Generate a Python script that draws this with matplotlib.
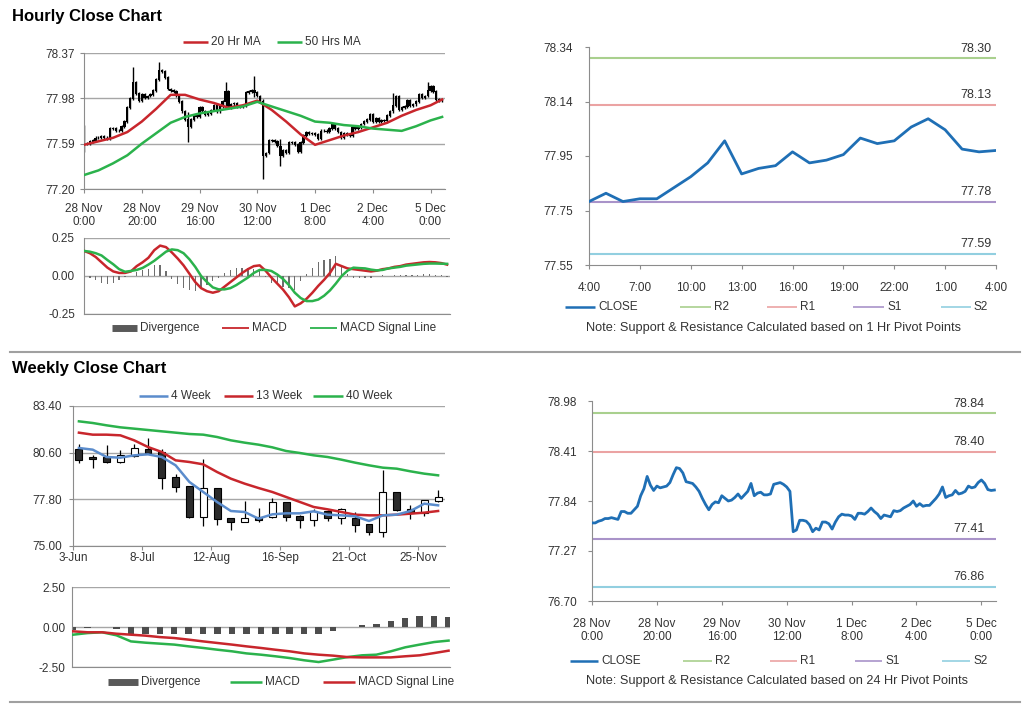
import matplotlib.pyplot as plt
from matplotlib.lines import Line2D
import numpy as np
import pandas as pd

plt.rcParams['font.family'] = ['Liberation Sans', 'DejaVu Sans']

W, H = 1024, 706

# hourly close, 28 Nov 0:00 -> 5 Dec 4:00 (125 trading hours)
hourly_close = [
    77.59, 77.59, 77.61, 77.62, 77.64, 77.64, 77.65, 77.64, 77.63, 77.72,
    77.72, 77.70, 77.70, 77.74, 77.78, 77.90, 77.98, 78.12, 78.02, 77.96,
    78.01, 77.99, 78.00, 78.01, 78.05, 78.14, 78.22, 78.21, 78.16, 78.06,
    78.05, 78.04, 78.00, 77.95, 77.87, 77.80, 77.74, 77.80, 77.83, 77.82,
    77.90, 77.87, 77.84, 77.85, 77.88, 77.92, 77.87, 77.91, 77.95, 78.04,
    77.90, 77.93, 77.94, 77.91, 77.91, 77.92, 78.03, 78.04, 78.05, 78.03,
    78.00, 77.95, 77.49, 77.51, 77.62, 77.62, 77.61, 77.57, 77.49, 77.53,
    77.51, 77.60, 77.60, 77.58, 77.52, 77.60, 77.66, 77.69, 77.68, 77.68,
    77.67, 77.63, 77.70, 77.70, 77.69, 77.72, 77.76, 77.72, 77.69, 77.64,
    77.68, 77.67, 77.66, 77.73, 77.72, 77.73, 77.76, 77.78, 77.80, 77.84,
    77.78, 77.81, 77.78, 77.79, 77.79, 77.83, 77.87, 77.92, 78.00, 77.88,
    77.90, 77.91, 77.96, 77.92, 77.93, 77.95, 78.01, 77.99, 78.00, 78.05,
    78.08, 78.04, 77.97, 77.96, 77.965,
]
hourly_open0 = 77.68
# hours with long wicks
wick_idx = [0, 17, 26, 36, 49, 59, 62, 68, 107, 119]
wick_high = [77.74, 78.24, 78.28, 77.85, 78.11, 78.16, 77.96, 77.62, 78.01, 78.11]
wick_low = [77.53, 78.00, 78.15, 77.62, 77.90, 78.00, 77.30, 77.41, 77.88, 78.00]

ma_idx = [0, 5, 10, 15, 20, 25, 30, 35, 40, 45, 50, 55, 60, 65, 70, 75,
          80, 85, 90, 95, 100, 105, 110, 115, 120, 124]
ma20 = [77.58, 77.61, 77.64, 77.69, 77.78, 77.89, 78.01, 78.01, 77.97, 77.94,
        77.90, 77.92, 77.96, 77.88, 77.78, 77.67, 77.58, 77.62, 77.66, 77.69,
        77.73, 77.77, 77.83, 77.88, 77.92, 77.97]
ma50 = [77.32, 77.36, 77.42, 77.49, 77.59, 77.68, 77.77, 77.82, 77.85, 77.87,
        77.89, 77.91, 77.95, 77.91, 77.87, 77.83, 77.78, 77.77, 77.75, 77.74,
        77.72, 77.71, 77.70, 77.74, 77.79, 77.82]

macd_idx = list(range(0, 125, 2))
hourly_macd = [0.165, 0.15, 0.125, 0.09, 0.055, 0.03, 0.02, 0.02, 0.03, 0.065,
               0.09, 0.12, 0.17, 0.20, 0.19, 0.155, 0.115, 0.07, 0.015, -0.04,
               -0.08, -0.10, -0.11, -0.10, -0.07, -0.04, -0.01, 0.02, 0.045, 0.065,
               0.07, 0.035, -0.01, -0.05, -0.09, -0.14, -0.20, -0.18, -0.15, -0.11,
               -0.065, -0.025, 0.02, 0.08, 0.065, 0.05, 0.045, 0.04, 0.035, 0.03,
               0.035, 0.045, 0.05, 0.06, 0.065, 0.075, 0.08, 0.085, 0.09, 0.092,
               0.09, 0.085, 0.075]
hourly_signal = [0.165, 0.16, 0.15, 0.135, 0.105, 0.077, 0.045, 0.028, 0.033, 0.04,
                 0.053, 0.075, 0.10, 0.13, 0.16, 0.175, 0.17, 0.15, 0.11, 0.06,
                 0.0, -0.04, -0.075, -0.088, -0.088, -0.08, -0.06, -0.035, -0.01, 0.02,
                 0.04, 0.04, 0.033, 0.01, -0.02, -0.06, -0.11, -0.145, -0.165, -0.165,
                 -0.155, -0.13, -0.095, -0.05, 0.0, 0.035, 0.055, 0.052, 0.05, 0.042,
                 0.037, 0.04, 0.05, 0.055, 0.06, 0.068, 0.072, 0.076, 0.08, 0.082,
                 0.082, 0.081, 0.08]

hour_tick_labels = ['28 Nov\n0:00', '28 Nov\n20:00', '29 Nov\n16:00', '30 Nov\n12:00',
                    '1 Dec\n8:00', '2 Dec\n4:00', '5 Dec\n0:00']
day_tick_labels = ['4:00', '7:00', '10:00', '13:00', '16:00', '19:00', '22:00', '1:00', '4:00']

pivot_names = ['R2', 'R1', 'S1', 'S2']
pivot_colors = ['#a9d08e', '#eba3a3', '#a993c9', '#92cfe0']
pivot_1h = [78.30, 78.13, 77.78, 77.59]
pivot_24h = [78.84, 78.40, 77.41, 76.86]

# weekly
week_dates = pd.date_range('2013-06-06', periods=27, freq='7D')
week_open = [80.78, 80.34, 80.34, 80.04, 80.44, 80.80, 80.64, 79.14, 78.58, 76.74,
             78.44, 76.64, 76.44, 76.74, 76.74, 77.64, 76.78, 76.60, 77.08, 76.70,
             76.68, 76.30, 75.84, 78.24, 77.18, 77.00, 77.74]
week_close = [80.20, 80.24, 80.04, 80.44, 80.84, 80.60, 79.12, 78.58, 76.74, 78.44,
              76.64, 76.44, 76.64, 76.60, 77.64, 76.74, 76.58, 77.08, 76.70, 77.18,
              76.30, 75.84, 78.24, 77.20, 77.00, 77.74, 77.94]
week_high = [81.14, 80.44, 81.08, 80.74, 81.14, 81.48, 80.80, 79.34, 78.58, 80.24,
             78.44, 76.64, 77.70, 77.28, 77.88, 77.64, 76.88, 77.24, 77.14, 77.28,
             77.04, 76.34, 79.54, 78.24, 77.44, 77.74, 78.34]
week_low = [80.00, 79.68, 80.00, 80.00, 80.34, 80.54, 78.44, 78.24, 76.68, 76.20,
            76.24, 75.94, 76.44, 76.44, 76.68, 76.50, 76.10, 76.20, 76.50, 76.30,
            75.84, 75.68, 75.54, 77.08, 76.60, 76.80, 77.64]
ma4w = [80.88, 80.78, 80.34, 80.30, 80.44, 80.50, 80.34, 79.84, 78.84, 78.24,
        77.64, 77.10, 77.04, 76.64, 76.90, 76.96, 76.96, 77.08, 76.88, 76.84,
        76.78, 76.50, 76.84, 76.88, 77.10, 77.54, 77.44]
ma13w = [81.80, 81.68, 81.68, 81.64, 81.34, 80.94, 80.64, 80.14, 80.04, 79.90,
         79.44, 79.04, 78.74, 78.48, 78.24, 77.94, 77.64, 77.34, 77.20, 77.04,
         76.88, 76.84, 76.84, 76.88, 76.94, 77.00, 77.10]
ma40w = [82.48, 82.38, 82.24, 82.12, 82.04, 81.96, 81.88, 81.80, 81.72, 81.68,
         81.54, 81.34, 81.20, 81.08, 80.92, 80.70, 80.58, 80.44, 80.34, 80.18,
         80.00, 79.84, 79.70, 79.64, 79.48, 79.34, 79.24]
week_macd = [-0.48, -0.38, -0.33, -0.52, -0.90, -0.98, -1.04, -1.10, -1.21, -1.31,
             -1.42, -1.52, -1.65, -1.73, -1.83, -1.94, -2.08, -2.19, -2.04, -1.88,
             -1.77, -1.73, -1.52, -1.27, -1.10, -0.94, -0.85]
week_signal = [-0.27, -0.33, -0.33, -0.42, -0.48, -0.54, -0.63, -0.69, -0.79, -0.90,
               -1.00, -1.10, -1.21, -1.31, -1.42, -1.52, -1.65, -1.73, -1.79, -1.88,
               -1.90, -1.90, -1.90, -1.83, -1.77, -1.63, -1.48]

RED = '#c8262c'
GREEN = '#2bb24c'
BLUE = '#1f6fb5'
GRID = '#a6a6a6'
TXT = '#333333'
FS = 8.5

fig = plt.figure(figsize=(W / 100, H / 100), dpi=100)


def px_axes(x0, y0, x1, y1):
    ax = fig.add_axes([x0 / W, 1 - y1 / H, (x1 - x0) / W, (y1 - y0) / H])
    for s in ['top', 'right']:
        ax.spines[s].set_visible(False)
    for s in ['left', 'bottom']:
        ax.spines[s].set_color('#8c8c8c')
    ax.tick_params(direction='out', length=3, color='#8c8c8c', labelsize=FS, labelcolor=TXT)
    return ax


def legend_item(x0, x1, y, color, lw, label):
    fig.add_artist(Line2D([x0 / W, x1 / W], [1 - y / H, 1 - y / H], color=color, lw=lw,
                          solid_capstyle='butt'))
    fig.text((x1 + 3) / W, 1 - y / H, label, fontsize=FS, color=TXT, va='center', ha='left')


# ---------------- hourly price ----------------
fig.text(12 / W, 1 - 16 / H, 'Hourly Close Chart', fontsize=12, fontweight='bold', va='center')
ax1 = px_axes(84, 53, 445, 189)
x = np.arange(len(hourly_close))
close = np.array(hourly_close)
opens = np.array([hourly_open0] + hourly_close[:-1])
body_lo = np.minimum(opens, close)
body_hi = np.maximum(opens, close)
hi = body_hi.copy()
lo = body_lo.copy()
for k, i in enumerate(wick_idx):
    hi[i] = max(hi[i], wick_high[k])
    lo[i] = min(lo[i], wick_low[k])
ax1.vlines(x, lo - 0.012, hi + 0.012, color='black', lw=1.0, zorder=2)
ax1.bar(x, body_hi - body_lo + 0.006, bottom=body_lo - 0.003, width=0.8, color='black', zorder=2)
ax1.plot(ma_idx, ma20, color=RED, lw=1.8, zorder=3)
ax1.plot(ma_idx, ma50, color=GREEN, lw=1.8, zorder=3)
ax1.set_xlim(0, 125)
ax1.set_ylim(77.20, 78.37)
ax1.set_yticks([77.20, 77.59, 77.98, 78.37])
ax1.set_yticklabels(['77.20', '77.59', '77.98', '78.37'])
ax1.set_xticks(range(0, 121, 20))
ax1.set_xticklabels(hour_tick_labels, linespacing=1.1)
ax1.tick_params(axis='x', pad=7)
ax1.tick_params(axis='y', pad=3.5)
ax1.yaxis.grid(True, color=GRID, lw=1)
ax1.set_axisbelow(True)
legend_item(183, 208, 42, RED, 1.8, '20 Hr MA')
legend_item(277, 302, 42, GREEN, 1.8, '50 Hrs MA')

# ---------------- hourly MACD ----------------
ax2 = px_axes(84, 238, 450, 314)
hdiv = np.array(hourly_macd) - np.array(hourly_signal)
ax2.bar(macd_idx, hdiv, width=0.45, color='#6e6e6e', zorder=2)
ax2.plot(macd_idx, hourly_macd, color=RED, lw=1.8, zorder=3)
ax2.plot(macd_idx, hourly_signal, color=GREEN, lw=1.8, zorder=3)
ax2.set_xlim(0, 125)
ax2.set_ylim(-0.25, 0.25)
ax2.set_yticks([-0.25, 0, 0.25])
ax2.set_yticklabels(['-0.25', '0.00', '0.25'])
ax2.set_xticks([])
ax2.tick_params(axis='y', length=0, pad=6.5)
ax2.yaxis.grid(True, color=GRID, lw=1)
ax2.set_axisbelow(True)
legend_item(112, 137, 328, '#595959', 5, 'Divergence')
legend_item(222, 249, 328, RED, 1.3, 'MACD')
legend_item(310, 337, 328, GREEN, 1.3, 'MACD Signal Line')

# ---------------- last 24 hours ----------------
ax3 = px_axes(589, 47, 996, 265)
last24 = hourly_close[-25:]
for name, val, col in zip(pivot_names, pivot_1h, pivot_colors):
    ax3.axhline(val, color=col, lw=1.5, zorder=2)
    ax3.annotate(f'{val:.2f}', xy=(1, val), xycoords=('axes fraction', 'data'),
                 xytext=(-3, 2.5), textcoords='offset points', ha='right', va='bottom',
                 fontsize=9, color=TXT)
ax3.plot(range(25), last24, color=BLUE, lw=2, zorder=3)
ax3.set_xlim(0, 24)
ax3.set_ylim(77.55, 78.34)
ax3.set_yticks(np.linspace(77.55, 78.34, 5))
ax3.set_yticklabels(['77.55', '77.75', '77.95', '78.14', '78.34'])
ax3.set_xticks(range(0, 25, 3))
ax3.set_xticklabels(day_tick_labels)
ax3.tick_params(axis='x', pad=9)
ax3.tick_params(axis='y', pad=8.5)
legend_item(565, 595, 307, BLUE, 1.8, 'CLOSE')
legend_item(680, 711, 307, pivot_colors[0], 1.2, 'R2')
legend_item(767, 797, 307, pivot_colors[1], 1.2, 'R1')
legend_item(853, 884, 307, pivot_colors[2], 1.2, 'S1')
legend_item(941, 971, 307, pivot_colors[3], 1.2, 'S2')
fig.text(773 / W, 1 - 328 / H, 'Note: Support & Resistance Calculated based on 1 Hr Pivot Points',
         fontsize=9.2, color=TXT, ha='center', va='center')

# ---------------- weekly price ----------------
fig.text(12 / W, 1 - 369 / H, 'Weekly Close Chart', fontsize=12, fontweight='bold', va='center')
ax4 = px_axes(73, 406, 445, 546)
wo = np.array(week_open)
wc = np.array(week_close)
up = wc >= wo
ax4.vlines(week_dates, week_low, week_high, color='black', lw=0.9, zorder=2)
ax4.bar(week_dates, np.abs(wc - wo) + 0.03, bottom=np.minimum(wo, wc) - 0.015, width=3.5,
        color=np.where(up, 'white', '#2b2b2b'), edgecolor='black', lw=0.8, zorder=3)
ax4.plot(week_dates, ma40w, color=GREEN, lw=1.8, zorder=4)
ax4.plot(week_dates, ma13w, color=RED, lw=1.8, zorder=4)
ax4.plot(week_dates, ma4w, color='#5b8ccc', lw=1.8, zorder=4)
ax4.set_xlim(pd.Timestamp('2013-06-03'), week_dates[-1] + pd.Timedelta(days=3.5))
ax4.set_ylim(75.0, 83.4)
ax4.set_yticks([75.0, 77.8, 80.6, 83.4])
ax4.set_yticklabels(['75.00', '77.80', '80.60', '83.40'])
wticks = pd.date_range('2013-06-03', periods=6, freq='35D')
ax4.set_xticks(wticks)
ax4.set_xticklabels([f'{d.day}-{d:%b}' for d in wticks])
ax4.tick_params(axis='x', pad=1.5)
ax4.tick_params(axis='y', pad=5)
ax4.yaxis.grid(True, color=GRID, lw=1)
ax4.set_axisbelow(True)
legend_item(139, 168, 396, '#5b8ccc', 1.8, '4 Week')
legend_item(224, 253, 396, RED, 1.8, '13 Week')
legend_item(313, 343, 396, GREEN, 1.8, '40 Week')

# ---------------- weekly MACD ----------------
ax5 = px_axes(72, 587, 450, 667)
wx = np.arange(len(week_macd))
wdiv = np.array(week_macd) - np.array(week_signal)
ax5.bar(wx, wdiv, width=0.45, color='#4d4d4d', zorder=2)
ax5.plot(wx, week_macd, color=GREEN, lw=1.8, zorder=3)
ax5.plot(wx, week_signal, color=RED, lw=1.8, zorder=3)
ax5.set_xlim(-0.08, 26.1)
ax5.set_ylim(-2.5, 2.5)
ax5.set_yticks([-2.5, 0, 2.5])
ax5.set_yticklabels(['-2.50', '0.00', '2.50'])
ax5.set_xticks([])
ax5.tick_params(axis='y', length=0, pad=4.5)
ax5.yaxis.grid(True, color=GRID, lw=1)
ax5.set_axisbelow(True)
legend_item(108, 138, 682, '#595959', 5, 'Divergence')
legend_item(230, 262, 682, GREEN, 1.8, 'MACD')
legend_item(323, 355, 682, RED, 1.8, 'MACD Signal Line')

# ---------------- hourly close with 24 hr pivots ----------------
ax6 = px_axes(592, 401, 996, 601)
for name, val, col in zip(pivot_names, pivot_24h, pivot_colors):
    ax6.axhline(val, color=col, lw=1.5, zorder=2)
    ax6.annotate(f'{val:.2f}', xy=(1, val), xycoords=('axes fraction', 'data'),
                 xytext=(-8, 2.5), textcoords='offset points', ha='right', va='bottom',
                 fontsize=9, color=TXT)
ax6.plot(x, hourly_close, color=BLUE, lw=2, zorder=3)
ax6.set_xlim(0, 124.5)
ax6.set_ylim(76.70, 78.98)
ax6.set_yticks(np.linspace(76.70, 78.98, 5))
ax6.set_yticklabels(['76.70', '77.27', '77.84', '78.41', '78.98'])
ax6.set_xticks(range(0, 121, 20))
ax6.set_xticklabels(hour_tick_labels, linespacing=1.1)
ax6.tick_params(axis='x', pad=9)
ax6.tick_params(axis='y', pad=8)
legend_item(570, 598, 661, BLUE, 1.8, 'CLOSE')
legend_item(683, 712, 661, pivot_colors[0], 1.2, 'R2')
legend_item(770, 797, 661, pivot_colors[1], 1.2, 'R1')
legend_item(855, 882, 661, pivot_colors[2], 1.2, 'S1')
legend_item(942, 970, 661, pivot_colors[3], 1.2, 'S2')
fig.text(777 / W, 1 - 681 / H, 'Note: Support & Resistance Calculated based on 24 Hr Pivot Points',
         fontsize=9.2, color=TXT, ha='center', va='center')

# separators
for yy in [352, 702]:
    fig.add_artist(Line2D([10 / W, 1020 / W], [1 - yy / H] * 2, color='#a0a0a0', lw=1.5))

fig.savefig('out.png', dpi=100)
